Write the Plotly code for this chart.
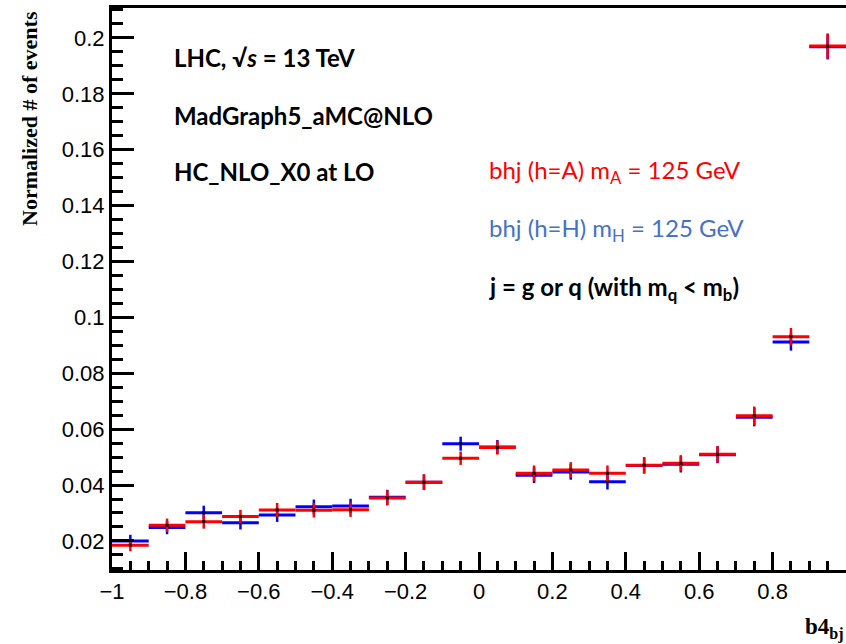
import plotly.graph_objects as go

# ---- data ----
bin_centers = [-0.95, -0.85, -0.75, -0.65, -0.55, -0.45, -0.35, -0.25, -0.15, -0.05,
               0.05, 0.15, 0.25, 0.35, 0.45, 0.55, 0.65, 0.75, 0.85, 0.95]
bin_half_width = [0.05] * 20

h_vals = [0.0200, 0.0248, 0.0301, 0.0265, 0.0293, 0.0322, 0.0325, 0.0356, 0.0410, 0.0548,
          0.0536, 0.0435, 0.0447, 0.0412, 0.0470, 0.0474, 0.0508, 0.0643, 0.0912, 0.1968]
h_errs = [0.0022, 0.0024, 0.0025, 0.0024, 0.0025, 0.0026, 0.0026, 0.0027, 0.0028, 0.0025,
          0.0025, 0.0028, 0.0028, 0.0028, 0.0029, 0.0029, 0.0030, 0.0033, 0.0031, 0.0045]

a_vals = [0.0185, 0.0256, 0.0269, 0.0287, 0.0311, 0.0310, 0.0312, 0.0354, 0.0410, 0.0496,
          0.0534, 0.0442, 0.0454, 0.0442, 0.0471, 0.0478, 0.0510, 0.0648, 0.0931, 0.1971]
a_errs = [0.0022, 0.0024, 0.0025, 0.0024, 0.0025, 0.0026, 0.0026, 0.0027, 0.0028, 0.0024,
          0.0025, 0.0028, 0.0028, 0.0028, 0.0029, 0.0029, 0.0030, 0.0033, 0.0031, 0.0045]

x_ticks = [-1, -0.8, -0.6, -0.4, -0.2, 0, 0.2, 0.4, 0.6, 0.8]
x_tick_labels = ["\u22121", "\u22120.8", "\u22120.6", "\u22120.4", "\u22120.2", "0", "0.2", "0.4", "0.6", "0.8"]
y_ticks = [0.02, 0.04, 0.06, 0.08, 0.1, 0.12, 0.14, 0.16, 0.18, 0.2]
y_tick_labels = ["0.02", "0.04", "0.06", "0.08", "0.1", "0.12", "0.14", "0.16", "0.18", "0.2"]

# ---- layout geometry (pixels) ----
W, H = 846, 644
L, R, T, B = 112, 0, 8, 74
PW, PH = W - L - R, H - T - B


def px(xp):
    return (xp - L) / PW


def py(yp):
    return 1 - (yp - T) / PH


fig = go.Figure()


def add_hist(vals, errs, color, name):
    fig.add_trace(go.Scatter(
        x=bin_centers, y=vals, mode="markers", name=name,
        marker=dict(symbol="square", size=3, color="black", line=dict(width=0)),
        error_x=dict(type="data", array=bin_half_width, symmetric=True,
                     color=color, thickness=3, width=0),
        error_y=dict(type="data", array=errs, symmetric=True,
                     color=color, thickness=2.5, width=0),
        showlegend=False, cliponaxis=True,
    ))


add_hist(h_vals, h_errs, "#0000FF", "bhj (h=H)")
add_hist(a_vals, a_errs, "#FF0000", "bhj (h=A)")

tick_font = dict(family="Liberation Sans, Arial, sans-serif", size=22, color="black")
txt_font = "Lato, Calibri, sans-serif"

fig.update_layout(
    width=W, height=H,
    margin=dict(l=L, r=R, t=T, b=B, pad=0),
    paper_bgcolor="white", plot_bgcolor="white",
    xaxis=dict(
        range=[-1, 1], tickvals=x_ticks, ticktext=x_tick_labels, tickangle=0,
        ticks="inside", ticklen=18, tickwidth=3, tickcolor="black",
        showline=True, linewidth=3, linecolor="black", mirror=True,
        showgrid=False, zeroline=False, tickfont=tick_font,
        minor=dict(dtick=0.05, tick0=0, ticks="inside", ticklen=9, tickwidth=2.5,
                   tickcolor="black", showgrid=False),
    ),
    yaxis=dict(
        range=[0.0096, 0.2107], tickvals=y_ticks, ticktext=y_tick_labels,
        ticks="inside", ticklen=22, tickwidth=3, tickcolor="black",
        showline=True, linewidth=3, linecolor="black",
        showgrid=False, zeroline=False, tickfont=tick_font,
        minor=dict(dtick=0.005, tick0=0, ticks="inside", ticklen=11, tickwidth=2.5,
                   tickcolor="black", showgrid=False),
    ),
)

annots = [
    dict(text="<b>LHC, √<i>s</i> = 13 TeV</b>", x=px(172), y=py(57), color="black"),
    dict(text="<b>MadGraph5_aMC@NLO</b>", x=px(172), y=py(115), color="black"),
    dict(text="<b>HC_NLO_X0 at LO</b>", x=px(172), y=py(172), color="black"),
    dict(text="bhj (h=A) m<sub>A</sub> = 125 GeV", x=px(487), y=py(172), color="#FF0000"),
    dict(text="bhj (h=H) m<sub>H</sub> = 125 GeV", x=px(487), y=py(230), color="#4472C4"),
    dict(text="<b>j = g or q (with m<sub>q</sub> &lt; m<sub>b</sub>)</b>", x=px(487), y=py(288), color="black"),
]
for a in annots:
    fig.add_annotation(text=a["text"], x=a["x"], y=a["y"], xref="paper", yref="paper",
                       xanchor="left", yanchor="middle", showarrow=False,
                       font=dict(family=txt_font, size=24, color=a["color"]))

# axis titles
fig.add_annotation(text="<b>Normalized # of events</b>", x=px(30), y=py(119),
                   xref="paper", yref="paper", xanchor="center", yanchor="middle",
                   textangle=-90, showarrow=False,
                   font=dict(family="Liberation Serif, Times New Roman, serif", size=22, color="black"))
fig.add_annotation(text="<b>b4<sub>bj</sub></b>", x=px(846), y=py(628),
                   xref="paper", yref="paper", xanchor="right", yanchor="middle",
                   showarrow=False,
                   font=dict(family="Liberation Serif, Times New Roman, serif", size=23, color="black"))

fig.write_html("out.html")
